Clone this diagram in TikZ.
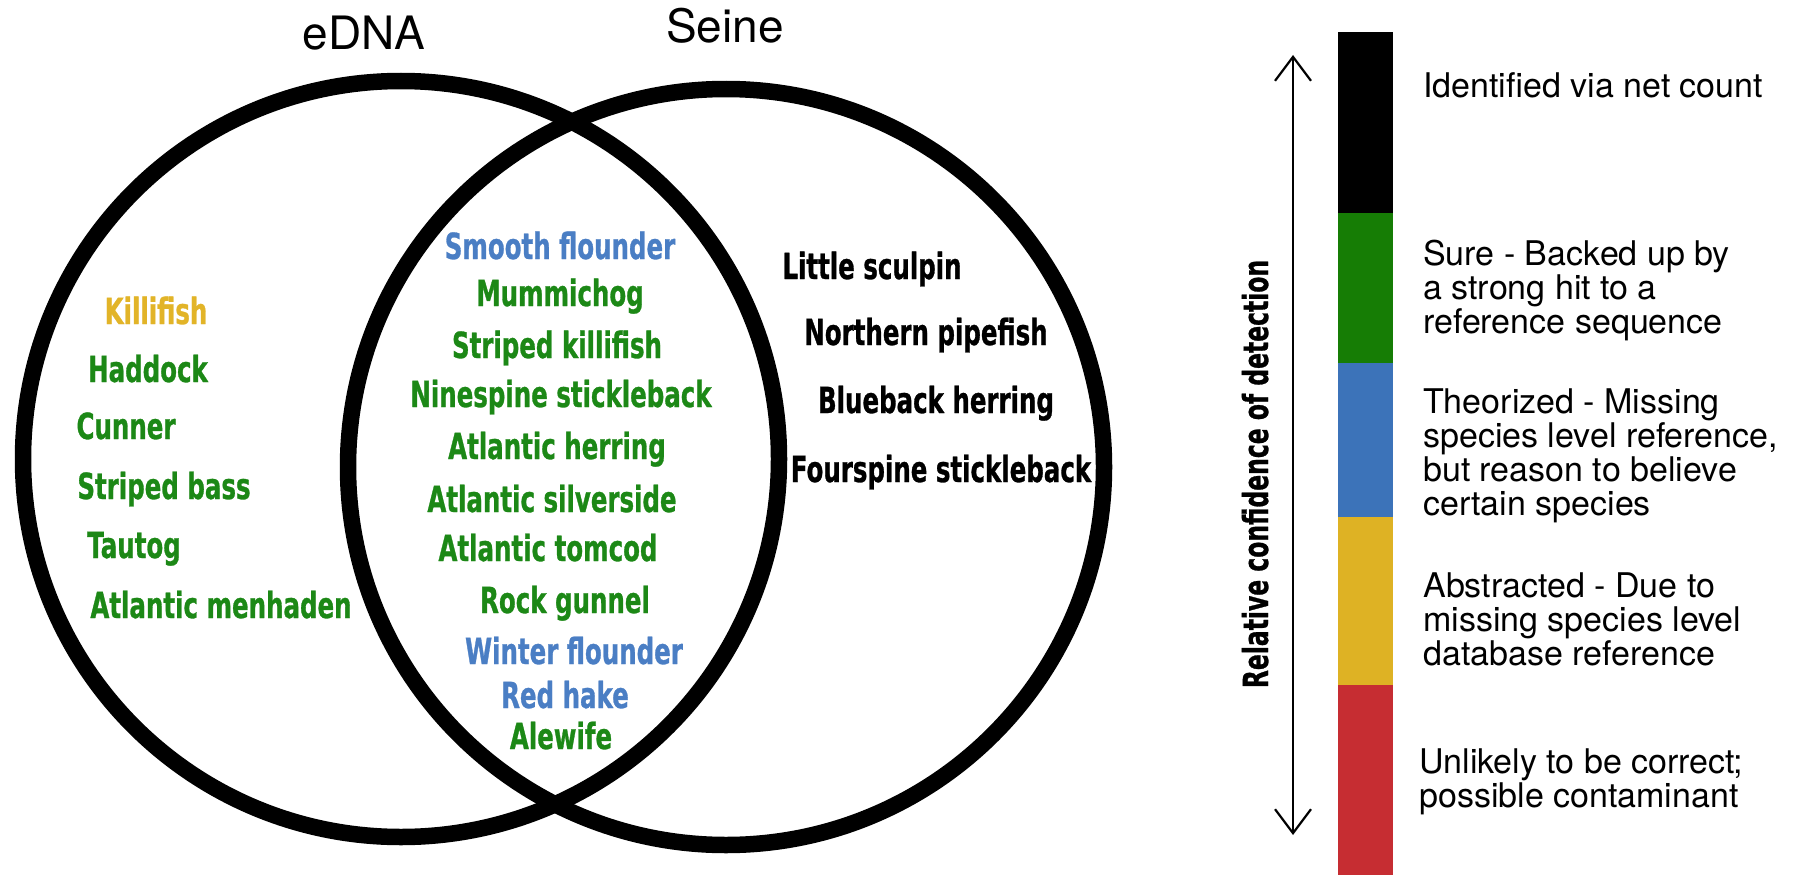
\documentclass[tikz,border=0pt]{standalone}
\usepackage{fontspec}
\setmainfont{TeX Gyre Heros}
\newfontfamily\impact{DejaVu Sans}[FakeStretch=0.68,FakeBold=0.8]
\usetikzlibrary{arrows.meta}
\definecolor{tgreen}{RGB}{28,136,22}
\definecolor{tblue}{RGB}{74,126,196}
\definecolor{tgold}{RGB}{226,180,40}
\definecolor{bgreen}{RGB}{22,125,5}
\definecolor{bblue}{RGB}{60,115,185}
\definecolor{bgold}{RGB}{222,178,36}
\definecolor{bred}{RGB}{198,45,50}
\tikzset{
  venn/.style={draw=black, line width=16.5pt},
  sp/.style={anchor=base, inner sep=0pt, font={\impact\bfseries\fontsize{36pt}{36pt}\selectfont}},
  lg/.style={anchor=base west, inner sep=0pt, font={\fontsize{34pt}{34pt}\selectfont}},
  ttl/.style={anchor=base, inner sep=0pt, font={\fontsize{46pt}{46pt}\selectfont}},
}
\begin{document}
\begin{tikzpicture}[x=1pt,y=-1pt]
\useasboundingbox (0,0) rectangle (1801,875);
\fill[white] (0,0) rectangle (1801,875);
% Venn circles
\draw[venn] (401,459) circle[radius=378pt];
\draw[venn] (726,467) circle[radius=378pt];
\node[ttl] (tedna) at (364,50) {eDNA};
\node[ttl] (tseine) at (725,43) {Seine};
% eDNA only
\node[sp, text=tgold]  (s1) at (156,324) {Killifish};
\node[sp, text=tgreen] (s2) at (148,382) {Haddock};
\node[sp, text=tgreen] (s3) at (126,439) {Cunner};
\node[sp, text=tgreen] (s4) at (164,499) {Striped bass};
\node[sp, text=tgreen] (s5) at (134,558) {Tautog};
\node[sp, text=tgreen] (s6) at (221,618) {Atlantic menhaden};
% both
\node[sp, text=tblue]  (m1) at (560,259) {Smooth flounder};
\node[sp, text=tgreen] (m2) at (560,306) {Mummichog};
\node[sp, text=tgreen] (m3) at (557,358) {Striped killifish};
\node[sp, text=tgreen] (m4) at (561,407) {Ninespine stickleback};
\node[sp, text=tgreen] (m5) at (557,459) {Atlantic herring};
\node[sp, text=tgreen] (m6) at (552,512) {Atlantic silverside};
\node[sp, text=tgreen] (m7) at (548,561) {Atlantic tomcod};
\node[sp, text=tgreen] (m8) at (565,613) {Rock gunnel};
\node[sp, text=tblue]  (m9) at (574,664) {Winter flounder};
\node[sp, text=tblue]  (m10) at (565,708) {Red hake};
\node[sp, text=tgreen] (m11) at (561,749) {Alewife};
% seine only
\node[sp, text=black] (r1) at (872,279) {Little sculpin};
\node[sp, text=black] (r2) at (926,345) {Northern pipefish};
\node[sp, text=black] (r3) at (936,413) {Blueback herring};
\node[sp, text=black] (r4) at (941,482) {Fourspine stickleback};
% colour bar
\fill[black]  (1338,32)  rectangle (1393,214);
\fill[bgreen] (1338,213) rectangle (1393,364);
\fill[bblue]  (1338,363) rectangle (1393,518);
\fill[bgold]  (1338,517) rectangle (1393,686);
\fill[bred]   (1338,685) rectangle (1393,875);
% arrow
\coordinate (atop) at (1293,55);
\coordinate (abot) at (1293,835);
\draw[line width=2pt, {Straight Barb[length=24pt,width=36pt,line width=2.2pt]}-{Straight Barb[length=24pt,width=36pt,line width=2.2pt]}] (atop) -- (abot);
\node[anchor=base, inner sep=0pt, rotate=90, font={\impact\bfseries\fontsize{34.5pt}{34.5pt}\selectfont}] (axl) at (1268,474) {Relative confidence of detection};
% legend texts
\node[lg] (l1) at (1423,97) {Identified via net count};
\node[lg] (l2a) at (1423,265) {Sure - Backed up by};
\node[lg] (l2b) at (1423,299) {a strong hit to a};
\node[lg] (l2c) at (1423,333) {reference sequence};
\node[lg] (l3a) at (1423,413) {Theorized - Missing};
\node[lg] (l3b) at (1423,447) {species level reference,};
\node[lg] (l3c) at (1423,481) {but reason to believe};
\node[lg] (l3d) at (1423,515) {certain species};
\node[lg] (l4a) at (1423,597) {Abstracted - Due to};
\node[lg] (l4b) at (1423,631) {missing species level};
\node[lg] (l4c) at (1423,665) {database reference};
\node[lg] (l5a) at (1419,773) {Unlikely to be correct;};
\node[lg] (l5b) at (1419,807) {possible contaminant};
\end{tikzpicture}
\end{document}
